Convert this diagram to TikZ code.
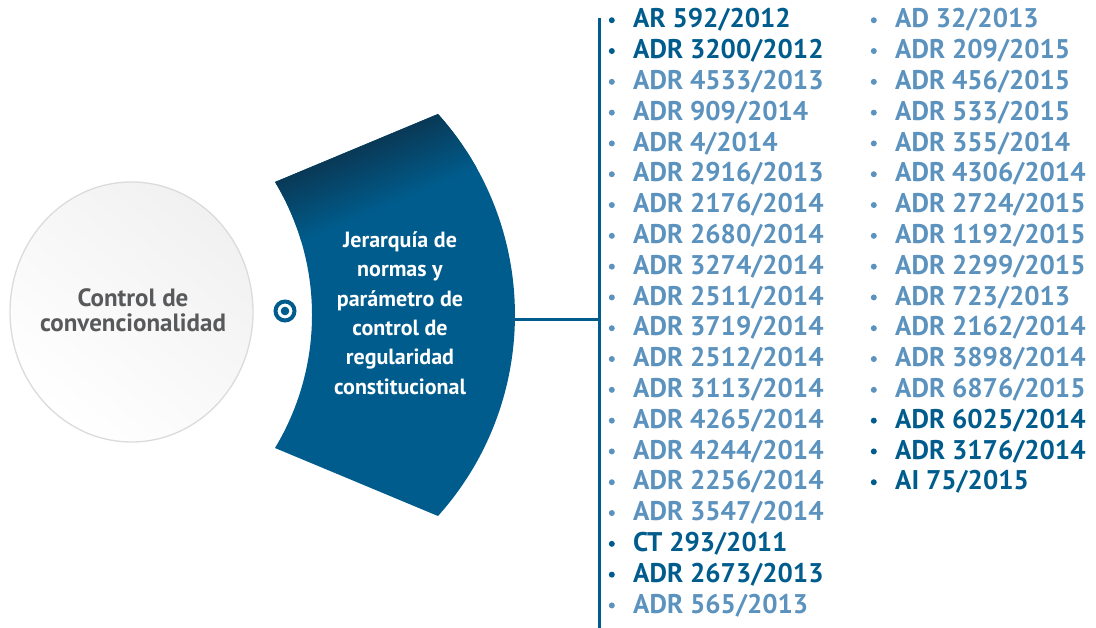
\documentclass[tikz,border=0pt]{standalone}
\usepackage{fontspec}
\setmainfont{PT Sans}
\definecolor{azul}{HTML}{005C8C}
\definecolor{azulosc}{HTML}{0A3652}
\definecolor{celeste}{HTML}{5B92BE}
\definecolor{gris}{HTML}{58595B}
\tikzset{
  item/.style={anchor=base west, inner sep=0pt, font=\bfseries\fontsize{27}{27}\selectfont},
  punto/.style={circle, inner sep=0pt, minimum size=6pt, label distance=18pt},
  oscuro/.style={item, text=azul, label={[punto, fill=azul]left:{}}},
  claro/.style={item, text=celeste, label={[punto, fill=celeste]left:{}}}
}
\begin{document}
\begin{tikzpicture}[x=1pt, y=1pt]
            \useasboundingbox (0, 0) rectangle (1096, 628);
            % 圆
            \shade[top color=gray!11, bottom color=white, shading angle=-40]
                (131.5, 316) ellipse [x radius=121.5, y radius=130];
            \draw[gray!28, line width=1.3pt] (131.5, 316) ellipse [x radius=121.5, y radius=130];
            \node[gris, font=\bfseries\fontsize{25}{25}\selectfont, align=center] (conv) at (133, 318) {Control de\\convencionalidad};
            % 图标
            \draw[azul, line width=4pt] (285, 317) circle (9.5);
            \fill[azul] (285, 317) circle (4.3);
            % 弧形
            \coordinate (TL) at (275, 446);
            \coordinate (TR) at (438, 514);
            \coordinate (BL) at (275, 180);
            \begin{scope}
                \clip (TL) -- (TR) arc[start angle=41.9, end angle=-41.9, radius=301]
                    -- (BL) arc[start angle=-31.1, end angle=31.1, radius=257.5] -- cycle;
                \fill[azul] (250, 100) rectangle (530, 530);
                \begin{scope}[transform canvas={rotate around={22.6:(TL)}}]
                    \shade[top color=azulosc, bottom color=azul] (215, 451) rectangle (600, 381);
                \end{scope}
            \end{scope}
            \node[white, font=\bfseries\fontsize{22}{29.4}\selectfont, align=center] (jer) at (400, 315)
                {Jerarquía de\\normas y\\parámetro de\\control de\\regularidad\\constitucional};
            % 连线
            \coordinate (salida) at (513, 308);
            \coordinate (tronco) at (599, 308);
            \coordinate (arriba) at (599, 610);
            \coordinate (abajo) at (599, 0);
            \draw[azul, line width=3pt] (salida) -- (tronco);
            \draw[azul, line width=3pt] (arriba) -- (abajo);
            % 第一列
            \node[oscuro] (a1) at (633, 600) {AR 592/2012};
            \node[oscuro] (a2) at (633, 569.2) {ADR 3200/2012};
            \node[claro] (a3) at (633, 538.4) {ADR 4533/2013};
            \node[claro] (a4) at (633, 507.6) {ADR 909/2014};
            \node[claro] (a5) at (633, 476.8) {ADR 4/2014};
            \node[claro] (a6) at (633, 446) {ADR 2916/2013};
            \node[claro] (a7) at (633, 415.2) {ADR 2176/2014};
            \node[claro] (a8) at (633, 384.4) {ADR 2680/2014};
            \node[claro] (a9) at (633, 353.6) {ADR 3274/2014};
            \node[claro] (a10) at (633, 322.8) {ADR 2511/2014};
            \node[claro] (a11) at (633, 292) {ADR 3719/2014};
            \node[claro] (a12) at (633, 261.2) {ADR 2512/2014};
            \node[claro] (a13) at (633, 230.4) {ADR 3113/2014};
            \node[claro] (a14) at (633, 199.6) {ADR 4265/2014};
            \node[claro] (a15) at (633, 168.8) {ADR 4244/2014};
            \node[claro] (a16) at (633, 138) {ADR 2256/2014};
            \node[claro] (a17) at (633, 107.2) {ADR 3547/2014};
            \node[oscuro] (a18) at (633, 76.4) {CT 293/2011};
            \node[oscuro] (a19) at (633, 45.6) {ADR 2673/2013};
            \node[claro] (a20) at (633, 14.8) {ADR 565/2013};
            % 第二列
            \node[claro] (b1) at (895, 600) {AD 32/2013};
            \node[claro] (b2) at (895, 569.2) {ADR 209/2015};
            \node[claro] (b3) at (895, 538.4) {ADR 456/2015};
            \node[claro] (b4) at (895, 507.6) {ADR 533/2015};
            \node[claro] (b5) at (895, 476.8) {ADR 355/2014};
            \node[claro] (b6) at (895, 446) {ADR 4306/2014};
            \node[claro] (b7) at (895, 415.2) {ADR 2724/2015};
            \node[claro] (b8) at (895, 384.4) {ADR 1192/2015};
            \node[claro] (b9) at (895, 353.6) {ADR 2299/2015};
            \node[claro] (b10) at (895, 322.8) {ADR 723/2013};
            \node[claro] (b11) at (895, 292) {ADR 2162/2014};
            \node[claro] (b12) at (895, 261.2) {ADR 3898/2014};
            \node[claro] (b13) at (895, 230.4) {ADR 6876/2015};
            \node[oscuro] (b14) at (895, 199.6) {ADR 6025/2014};
            \node[oscuro] (b15) at (895, 168.8) {ADR 3176/2014};
            \node[oscuro] (b16) at (895, 138) {AI 75/2015};
        \end{tikzpicture}
\end{document}
